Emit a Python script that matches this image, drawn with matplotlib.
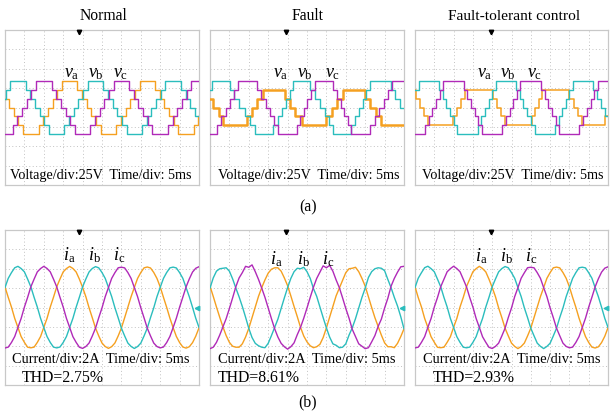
import numpy as np
import matplotlib
matplotlib.use('Agg')
import matplotlib.pyplot as plt

plt.rcParams['font.family'] = ['Liberation Serif', 'DejaVu Serif']
plt.rcParams['mathtext.fontset'] = 'custom'
plt.rcParams['mathtext.rm'] = 'Liberation Serif'
plt.rcParams['mathtext.it'] = 'Liberation Serif:italic'

# ---------------- data ----------------
panel_titles = ['Normal', 'Fault', 'Fault-tolerant control']
group_labels = ['(a)', '(b)']
volt_text = 'Voltage/div:25V  Time/div: 5ms'
curr_text = 'Current/div:2A  Time/div: 5ms'
thd_labels = ['THD=2.75%', 'THD=8.61%', 'THD=2.93%']
volt_names = [r'$v_{\mathrm{a}}$', r'$v_{\mathrm{b}}$', r'$v_{\mathrm{c}}$']
curr_names = [r'$i_{\mathrm{a}}$', r'$i_{\mathrm{b}}$', r'$i_{\mathrm{c}}$']

T_END = 50.0          # ms shown (10 div x 5 ms)
V_CELL = 11.2         # V per staircase level
DT = 20.0 / 24        # ms between current samples

# staircase phase voltages: switching instants (ms) and levels (cells)
va_normal_t = [0, 1.07, 2.27, 3.47, 4.67, 8.67, 9.87, 11.07, 12.27, 13.47, 14.67, 18.67, 19.87, 21.07,
               22.27, 23.47, 24.67, 28.67, 29.87, 31.07, 32.27, 33.47, 34.67, 38.67, 39.87, 41.07,
               42.27, 43.47, 44.67, 48.67, 49.87]
va_normal_lv = [1, 0, -1, -2, -3, -2, -1, 0, 1, 2, 3, 2, 1, 0, -1, -2, -3, -2, -1, 0, 1, 2, 3, 2, 1, 0,
                -1, -2, -3, -2, -1]
vb_normal_t = [0, 0.13, 1.33, 5.33, 6.53, 7.73, 8.93, 10.13, 11.33, 15.33, 16.53, 17.73, 18.93, 20.13,
               21.33, 25.33, 26.53, 27.73, 28.93, 30.13, 31.33, 35.33, 36.53, 37.73, 38.93, 40.13,
               41.33, 45.33, 46.53, 47.73, 48.93]
vb_normal_lv = [1, 2, 3, 2, 1, 0, -1, -2, -3, -2, -1, 0, 1, 2, 3, 2, 1, 0, -1, -2, -3, -2, -1, 0, 1, 2,
                3, 2, 1, 0, -1]
vc_normal_t = [0, 2.0, 3.2, 4.4, 5.6, 6.8, 8.0, 12.0, 13.2, 14.4, 15.6, 16.8, 18.0, 22.0, 23.2, 24.4,
               25.6, 26.8, 28.0, 32.0, 33.2, 34.4, 35.6, 36.8, 38.0, 42.0, 43.2, 44.4, 45.6, 46.8, 48.0]
vc_normal_lv = [-3, -2, -1, 0, 1, 2, 3, 2, 1, 0, -1, -2, -3, -2, -1, 0, 1, 2, 3, 2, 1, 0, -1, -2, -3,
                -2, -1, 0, 1, 2, 3]

va_fault_t = [0, 0.9, 2.2, 3.4, 9.5, 10.8, 12.2, 13.6, 19.4, 20.7, 22.0, 23.8, 30.0, 31.4, 32.8, 34.2,
              40.0, 41.3, 42.7, 44.2]
va_fault_lv = [1, 0, -1, -2, -1, 0, 1, 2, 1, 0, -1, -2, -1, 0, 1, 2, 1, 0, -1, -2]
vb_fault_t = [0, 0.4, 5.2, 6.3, 7.6, 9.0, 10.3, 11.6, 16.3, 17.5, 18.6, 19.6, 20.6, 21.5, 25.8, 27.0,
              28.3, 29.6, 30.6, 31.6, 36.3, 37.4, 38.4, 39.4, 40.3, 41.2, 46.6, 47.8, 49.0]
vb_fault_lv = [2, 3, 2, 1, 0, -1, -2, -3, -2, -1, 0, 1, 2, 3, 2, 1, 0, -1, -2, -3, -2, -1, 0, 1, 2, 3,
               2, 1, 0]
vc_fault_t = [0, 1.8, 2.9, 4.0, 5.1, 6.2, 7.3, 12.0, 13.2, 14.4, 15.4, 16.5, 17.6, 22.3, 23.3, 24.2,
              25.1, 26.1, 27.0, 31.8, 32.8, 33.8, 34.6, 35.5, 36.4, 41.3, 42.4, 43.5, 44.8, 45.9, 47.0]
vc_fault_lv = [-3, -2, -1, 0, 1, 2, 3, 2, 1, 0, -1, -2, -3, -2, -1, 0, 1, 2, 3, 2, 1, 0, -1, -2, -3,
               -2, -1, 0, 1, 2, 3]

va_ftc_t = [0, 0.3, 1.3, 2.4, 3.4, 9.9, 10.9, 11.9, 12.9, 20.2, 21.2, 22.2, 23.2, 30.2, 31.2, 32.1,
            33.0, 40.0, 41.1, 42.2, 43.3, 49.3]
va_ftc_lv = [2, 1, 0, -1, -2, -1, 0, 1, 2, 1, 0, -1, -2, -1, 0, 1, 2, 1, 0, -1, -2, -1]
vb_ftc_t = [0, 1.0, 6.2, 7.2, 8.1, 9.1, 10.0, 11.0, 16.2, 17.2, 18.1, 19.1, 20.0, 21.0, 26.2, 27.2,
            28.1, 29.1, 30.0, 31.0, 36.2, 37.2, 38.1, 39.1, 40.0, 41.0, 46.2, 47.2, 48.1, 49.1]
vb_ftc_lv = [2, 3, 2, 1, 0, -1, -2, -3, -2, -1, 0, 1, 2, 3, 2, 1, 0, -1, -2, -3, -2, -1, 0, 1, 2, 3,
             2, 1, 0, -1]
vc_ftc_t = [0, 2.6, 3.6, 4.5, 5.5, 6.4, 7.3, 12.6, 13.6, 14.5, 15.5, 16.4, 17.3, 22.6, 23.6, 24.5,
            25.5, 26.4, 27.3, 32.6, 33.6, 34.5, 35.5, 36.4, 37.3, 42.6, 43.6, 44.5, 45.5, 46.4, 47.3]
vc_ftc_lv = [-3, -2, -1, 0, 1, 2, 3, 2, 1, 0, -1, -2, -3, -2, -1, 0, 1, 2, 3, 2, 1, 0, -1, -2, -3,
             -2, -1, 0, 1, 2, 3]

# phase currents (A), sampled every DT ms
ia_normal = [2.12, 1.05, 0.04, -1.12, -2.06, -3.01, -3.60, -4.10, -4.16, -4.09, -3.60, -3.00, -2.05, -1.12, 0.05, 1.06, 2.14, 2.93, 3.68, 4.02, 4.24, 4.03, 3.67, 2.93,
             2.08, 1.12, -0.03, -1.06, -2.13, -2.94, -3.67, -4.03, -4.22, -4.04, -3.66, -2.94, -2.12, -1.06, 0.03, 1.12, 2.07, 3.00, 3.61, 4.09, 4.18, 4.08, 3.62, 3.00,
             2.13, 1.06, 0.02, -1.10, -2.08, -2.99, -3.62, -4.08, -4.19, -4.05, -3.63, -2.96, -2.10]
ib_normal = [2.06, 3.01, 3.60, 4.10, 4.25, 4.02, 3.68, 2.93, 2.13, 1.05, 0.04, -1.12, -2.07, -3.00, -3.61, -4.09, -4.17, -4.08, -3.61, -3.00, -2.06, -1.12, 0.03, 1.06,
             2.13, 2.94, 3.67, 4.03, 4.22, 4.09, 3.61, 3.00, 2.07, 1.12, -0.03, -1.06, -2.13, -2.93, -3.67, -4.02, -4.23, -4.03, -3.68, -2.94, -2.13, -1.05, -0.04, 1.12,
             2.07, 3.00, 3.61, 4.09, 4.17, 4.08, 3.60, 3.01, 2.06, 1.11, 0.02, -1.11, -2.06]
ic_normal = [-4.18, -4.09, -3.61, -3.00, -2.06, -1.12, 0.04, 1.05, 2.14, 2.93, 3.68, 4.02, 4.25, 4.03, 3.68, 2.93, 2.13, 1.06, 0.04, -1.12, -2.06, -3.01, -3.60, -4.10,
             -4.22, -4.03, -3.67, -2.94, -2.13, -1.05, -0.04, 1.12, 2.06, 3.01, 3.60, 4.10, 4.16, 4.09, 3.61, 3.00, 2.06, 1.12, -0.03, -1.06, -2.13, -2.93, -3.67, -4.03,
             -4.17, -4.08, -3.62, -2.99, -2.07, -1.10, 0.03, 1.07, 2.12, 2.95, 3.66, 4.05, 4.21]

ia_fault = [2.20, 1.15, 0.05, -1.00, -2.00, -2.90, -3.60, -4.00, -4.10, -4.10, -3.75, -3.05, -2.15, -1.05, 0.05, 1.15, 2.05, 2.85, 3.55, 3.95, 4.10, 4.10, 3.75, 3.05,
            2.25, 1.20, 0.10, -0.95, -2.05, -2.95, -3.55, -3.95, -4.15, -4.05, -3.80, -3.10, -2.10, -1.00, 0.10, 1.20, 2.00, 2.80, 3.60, 4.00, 4.05, 4.15, 3.70, 3.00,
            2.20, 1.10, 0.00, -1.05, -1.95, -2.85, -3.65, -4.05, -4.05, -4.15, -3.70, -3.00, -2.20]
ib_fault = [2.00, 3.05, 3.75, 4.00, 4.05, 4.10, 3.75, 2.95, 2.00, 1.10, 0.10, -1.00, -2.15, -3.10, -3.70, -3.95, -4.10, -4.15, -3.70, -2.90, -2.05, -1.20, -0.10, 1.00,
            2.05, 3.00, 3.70, 4.05, 4.00, 4.15, 3.70, 3.00, 1.95, 1.15, 0.05, -1.05, -2.10, -3.05, -3.75, -3.90, -4.15, -4.10, -3.75, -2.85, -2.10, -1.15, -0.05, 1.05,
            2.00, 3.10, 3.70, 4.00, 4.10, 4.05, 3.80, 2.90, 2.05, 1.05, 0.15, -0.95, -2.20]
ic_fault = [-4.25, -4.10, -3.60, -2.85, -2.00, -1.15, -0.10, 1.00, 2.15, 3.05, 3.60, 4.25, 4.15, 4.40, 3.70, 2.90, 2.00, 1.05, -0.05, -1.15, -2.20, -3.05, -3.70, -4.05,
            -4.30, -4.05, -3.65, -2.80, -2.05, -1.10, -0.05, 1.05, 2.10, 3.00, 3.65, 4.30, 4.10, 4.35, 3.75, 2.85, 2.05, 1.00, -0.10, -1.10, -2.25, -3.00, -3.75, -4.00,
            -4.25, -4.15, -3.55, -2.90, -1.95, -1.20, -0.05, 0.95, 2.20, 3.00, 3.65, 4.20, 4.25]

ia_ftc = [2.15, 1.03, 0.06, -1.13, -2.05, -3.02, -3.59, -4.11, -4.15, -4.10, -3.59, -3.02, -2.04, -1.13, 0.06, 1.04, 2.15, 2.92, 3.69, 4.01, 4.25, 4.02, 3.68, 2.92,
          2.07, 1.13, -0.04, -1.05, -2.14, -2.93, -3.68, -4.02, -4.24, -4.03, -3.67, -2.93, -2.13, -1.05, 0.04, 1.13, 2.06, 3.01, 3.60, 4.10, 4.17, 4.09, 3.61, 3.01,
          2.14, 1.05, 0.03, -1.11, -2.07, -3.00, -3.61, -4.09, -4.18, -4.06, -3.62, -2.97, -2.09]
ib_ftc = [2.05, 3.02, 3.59, 4.11, 4.26, 4.01, 3.69, 2.92, 2.14, 1.04, 0.05, -1.13, -2.06, -3.01, -3.60, -4.10, -4.16, -4.09, -3.60, -3.01, -2.05, -1.13, 0.04, 1.05,
          2.14, 2.93, 3.68, 4.02, 4.23, 4.10, 3.60, 3.01, 2.06, 1.13, -0.04, -1.05, -2.14, -2.92, -3.68, -4.01, -4.24, -4.02, -3.69, -2.93, -2.14, -1.04, -0.05, 1.13,
          2.06, 3.01, 3.60, 4.10, 4.16, 4.09, 3.59, 3.02, 2.05, 1.12, 0.03, -1.12, -2.05]
ic_ftc = [-4.17, -4.10, -3.60, -3.01, -2.05, -1.13, 0.05, 1.04, 2.15, 2.92, 3.69, 4.01, 4.26, 4.02, 3.69, 2.92, 2.14, 1.05, 0.05, -1.13, -2.05, -3.02, -3.59, -4.11,
          -4.23, -4.02, -3.68, -2.93, -2.14, -1.04, -0.05, 1.13, 2.05, 3.02, 3.59, 4.11, 4.15, 4.10, 3.60, 3.01, 2.05, 1.13, -0.04, -1.05, -2.14, -2.92, -3.68, -4.02,
          -4.16, -4.09, -3.61, -3.00, -2.06, -1.11, 0.04, 1.06, 2.13, 2.96, 3.65, 4.06, 4.20]

trigger_ms = [19.0, 19.5, 19.8]

# ---------------- styling / layout ----------------
C_A = '#F5A020'   # orange
C_B = '#2BBDBD'   # cyan
C_C = '#B02AB8'   # magenta
W, H = 612, 416

fig = plt.figure(figsize=(W / 100, H / 100), dpi=100)

def px_axes(x0, y0, x1, y1):
    return fig.add_axes([x0 / W, 1 - y1 / H, (x1 - x0) / W, (y1 - y0) / H])

def scope_style(ax, ymax):
    ax.set_xlim(0, T_END)
    ax.set_ylim(-ymax, ymax)
    ax.set_xticks(np.linspace(0, T_END, 11))
    ax.set_yticks(np.linspace(-ymax, ymax, 9))
    ax.tick_params(length=0, labelbottom=False, labelleft=False)
    ax.grid(True, linestyle=(0, (1, 2.5)), color='#c2c2c2', linewidth=0.7)
    for s in ax.spines.values():
        s.set_color('#c8c8c8')
        s.set_linewidth(0.9)
    ax.set_facecolor('white')

def ftxt(x, y, s, **kw):
    fig.text(x / W, 1 - y / H, s, **kw)

col_x = [(5, 199), (210, 404), (415, 608)]
top_y = (30, 185)
bot_y = (230, 385)

volt_sets = [
    [(va_normal_t, va_normal_lv), (vb_normal_t, vb_normal_lv), (vc_normal_t, vc_normal_lv)],
    [(va_fault_t, va_fault_lv), (vb_fault_t, vb_fault_lv), (vc_fault_t, vc_fault_lv)],
    [(va_ftc_t, va_ftc_lv), (vb_ftc_t, vb_ftc_lv), (vc_ftc_t, vc_ftc_lv)],
]
curr_sets = [
    [ia_normal, ib_normal, ic_normal],
    [ia_fault, ib_fault, ic_fault],
    [ia_ftc, ib_ftc, ic_ftc],
]
colors = [C_A, C_B, C_C]
orange_lw = [1.0, 1.8, 1.1]

for k in range(3):
    x0, x1 = col_x[k]
    # voltage panel
    ax = px_axes(x0, top_y[0], x1, top_y[1])
    scope_style(ax, 100)
    for j, (t, lv) in enumerate(volt_sets[k]):
        tt = np.r_[np.asarray(t, float), T_END]
        vv = np.r_[np.asarray(lv, float), lv[-1]] * V_CELL
        ax.step(tt, vv, where='post', color=colors[j],
                lw=orange_lw[k] if j == 0 else 1.0, zorder=3 + j)
    ax.plot([trigger_ms[k]], [97], marker='v', color='black', ms=3.2, zorder=10, clip_on=False)
    # current panel
    ax2 = px_axes(x0, bot_y[0], x1, bot_y[1])
    scope_style(ax2, 8)
    for j, arr in enumerate(curr_sets[k]):
        tt = np.arange(len(arr)) * DT
        ax2.plot(tt, arr, color=colors[j], lw=1.0, zorder=3 + j)
    ax2.plot([trigger_ms[k]], [7.75], marker='v', color='black', ms=3.2, zorder=10, clip_on=False)
    ax2.plot([T_END - 0.5], [0], marker='<', color=C_B, ms=3.2, zorder=10, clip_on=False)

# titles
ftxt(103, 20.5, panel_titles[0], ha='center', va='baseline', fontsize=11.3)
ftxt(308, 20.5, panel_titles[1], ha='center', va='baseline', fontsize=11.3)
ftxt(514, 20.5, panel_titles[2], ha='center', va='baseline', fontsize=11.1)

# in-panel annotations
vt_x = [10, 218, 422]
for k in range(3):
    ftxt(vt_x[k], 179.5, volt_text, ha='left', va='baseline', fontsize=10.2)
ct_x = [12, 218, 423]
thd_x = [22, 218, 433]
for k in range(3):
    ftxt(ct_x[k], 363, curr_text, ha='left', va='baseline', fontsize=10.4)
    ftxt(thd_x[k], 382, thd_labels[k], ha='left', va='baseline', fontsize=11.3)

vlab_x = [[64, 88, 113], [273, 297, 325], [477, 500, 527]]
ilab_x = [[63, 88, 113], [270, 297, 322], [475, 500, 525]]
ilab_y = [260, 264, 261]
for k in range(3):
    for j in range(3):
        ftxt(vlab_x[k][j], 77.5, volt_names[j], ha='left', va='baseline', fontsize=13)
        ftxt(ilab_x[k][j], ilab_y[k], curr_names[j], ha='left', va='baseline', fontsize=13)

ftxt(308, 211.5, group_labels[0], ha='center', va='baseline', fontsize=11.3)
ftxt(308, 406.5, group_labels[1], ha='center', va='baseline', fontsize=11.3)

fig.savefig('out.png', dpi=100, facecolor='white')
